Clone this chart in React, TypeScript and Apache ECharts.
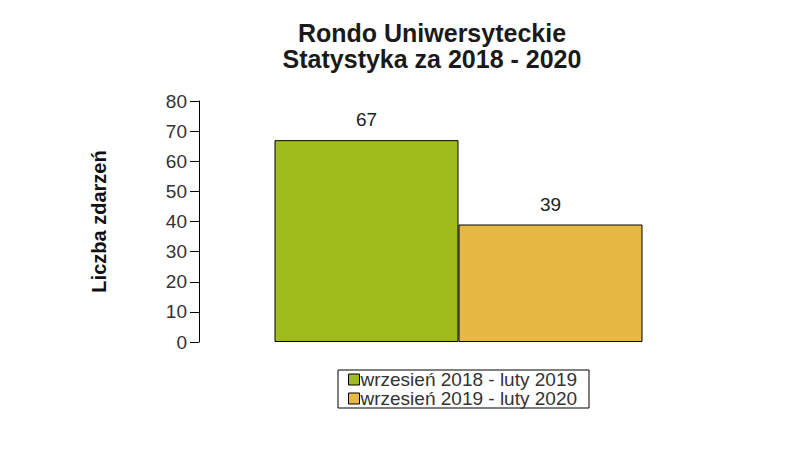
import React, { useEffect, useRef } from "react";
import * as echarts from "echarts";

const titleLines = ["Rondo Uniwersyteckie", "Statystyka za 2018 - 2020"];
const yAxisName = "Liczba zdarzeń";
const categories = [""];
const seriesNames = ["wrzesień 2018 - luty 2019", "wrzesień 2019 - luty 2020"];
const seriesValues = [67, 39];
const seriesColors = ["#a0bb1c", "#e8b845"];
const yTicks = { min: 0, max: 80, interval: 10 };

const FONT = "'Liberation Sans', Arial, sans-serif";

export default function App() {
  const ref = useRef<HTMLDivElement>(null);
  useEffect(() => {
    if (!ref.current) return;
    const chart = echarts.init(ref.current, undefined, { renderer: "svg" });
    chart.setOption({
      animation: false,
      backgroundColor: "#ffffff",
      textStyle: { fontFamily: FONT },
      title: {
        text: titleLines.join("\n"),
        left: 427,
        textAlign: "center",
        top: 15,
        textStyle: {
          fontFamily: FONT,
          fontSize: 25,
          fontWeight: "bold",
          color: "#1a1a1a",
          lineHeight: 26,
        },
      },
      legend: {
        orient: "vertical",
        left: 338,
        top: 370,
        padding: [0, 12, 0, 10],
        itemGap: 0,
        itemWidth: 11,
        itemHeight: 11,
        itemStyle: { borderColor: "#000", borderWidth: 1 },
        borderColor: "#000",
        borderWidth: 1,
        icon: "rect",
        textStyle: {
          fontFamily: FONT,
          fontSize: 19,
          lineHeight: 18,
          color: "#333",
          padding: [0, 0, 0, -4],
        },
        data: seriesNames,
      },
      grid: { left: 199, right: 82, top: 101, bottom: 118 },
      xAxis: {
        type: "category",
        data: categories,
        axisLine: { show: false },
        axisTick: { show: false },
        axisLabel: { show: false },
      },
      yAxis: {
        type: "value",
        min: yTicks.min,
        max: yTicks.max,
        interval: yTicks.interval,
        name: yAxisName,
        nameLocation: "middle",
        nameGap: 90,
        nameTextStyle: {
          fontFamily: FONT,
          fontSize: 20,
          fontWeight: "bold",
          color: "#111",
        },
        axisLine: { show: true, lineStyle: { color: "#000", width: 1 } },
        axisTick: { show: true, length: 9, lineStyle: { color: "#000" } },
        axisLabel: {
          fontFamily: FONT,
          fontSize: 19,
          color: "#333",
          margin: 12,
        },
        splitLine: { show: false },
      },
      series: seriesNames.map((name, i) => ({
        name,
        type: "bar",
        barWidth: 184,
        barGap: "0%",
        data: [seriesValues[i]],
        itemStyle: {
          color: seriesColors[i],
          borderColor: "#000",
          borderWidth: 1,
        },
        label: {
          show: true,
          position: "top",
          distance: 11,
          fontFamily: FONT,
          fontSize: 19,
          color: "#222",
        },
      })),
    });
    return () => chart.dispose();
  }, []);
  return (
    <div
      ref={ref}
      style={{ position: "fixed", left: 0, top: 0, width: 800, height: 460 }}
    />
  );
}
